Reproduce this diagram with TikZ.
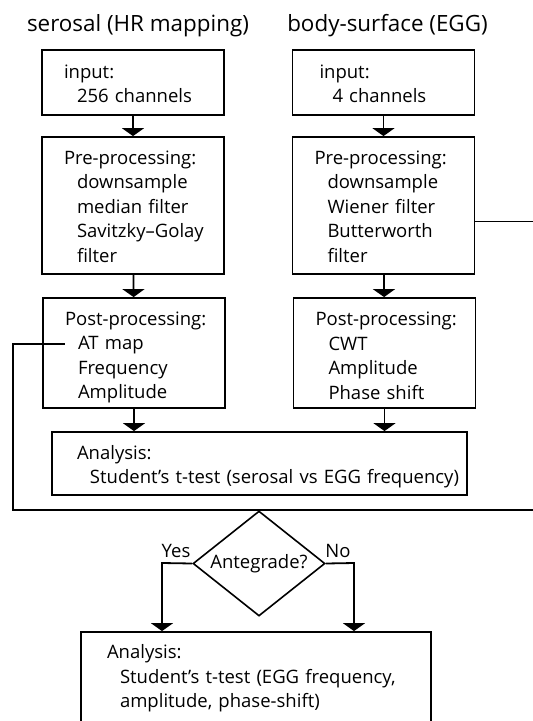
\documentclass[tikz,border=0pt]{standalone}
\usepackage{fontspec}
\setmainfont{Open Sans}
\usetikzlibrary{shapes.geometric,arrows.meta}
\newcommand{\ind}{\hspace*{13pt}}
\newcommand{\lns}[2][23pt]{\begin{tabular}{@{}l@{}}\rule{0pt}{#1}#2\end{tabular}}

\begin{document}
\begin{tikzpicture}[x=1pt, y=-1pt,
    font=\fontsize{18.5}{24.5}\selectfont,
    title/.style={anchor=base, font=\fontsize{22.4}{26}\selectfont},
    box/.style={draw, rectangle, line width=1.8pt, align=left, inner xsep=22pt, inner ysep=0pt, text width=138pt},
    arr/.style={line width=1.8pt, -{Triangle[width=22pt,length=8pt]}},
    link/.style={line width=1.8pt}]
    \useasboundingbox (0,0) rectangle (533,721);
    \clip (0,0) rectangle (533,721);

    \node[title] (t1) at (138,31) {serosal (HR mapping)};
    \node[title] (t2) at (387.5,31) {body-surface (EGG)};

    % serosal column
    \node[box, minimum height=65pt] (in1) at (133,82.5) {\lns{input:\\\ind 256 channels}};
    \node[box, minimum height=137pt] (pre1) at (133,205.5) {\lns{Pre-processing:\\\ind downsample\\\ind median filter\\\ind Savitzky--Golay\\\ind filter}};
    \node[box, minimum height=110pt] (post1) at (134,353) {\lns[25pt]{Post-processing:\\\ind AT map\\\ind Frequency\\\ind Amplitude}};

    % body-surface column
    \node[box, minimum height=65pt] (in2) at (383.5,82.5) {\lns{\hspace*{5pt}input:\\\hspace*{18pt}4 channels}};
    \node[box, minimum height=137pt] (pre2) at (383.5,205.5) {\lns{Pre-processing:\\\ind downsample\\\ind Wiener filter\\\ind Butterworth\\\ind filter}};
    \node[box, minimum height=110pt] (post2) at (384.5,353) {\lns[26pt]{Post-processing:\\\ind CWT\\\ind Amplitude\\\ind Phase shift}};

    \node[box, text width=365pt, inner xsep=25pt, minimum height=63pt] (ana1) at (259.5,463.5) {\lns{Analysis:\\\ind Student's t-test (serosal vs EGG frequency)}};

    \node[draw, diamond, line width=1.6pt, aspect=1.26, inner sep=0pt, minimum width=132pt, minimum height=105pt] (dia) at (259,563.5) {Antegrade?};
    \node[anchor=base] (yeslbl) at (176,557) {Yes};
    \node[anchor=base] (nolbl) at (338,557) {No};

    \node[box, text width=298pt, inner xsep=26pt, minimum height=93pt] (ana2) at (256,678.5) {\lns[17pt]{Analysis:\\\ind Student's t-test (EGG frequency,\\\ind amplitude, phase-shift)}};

    \coordinate (atmap) at (65,344);
    \coordinate (loopL) at (13,510);
    \coordinate (loopR) at (545,510);
    \coordinate (yes) at (162,563);
    \coordinate (no) at (354,563);

    \draw[arr] (in1) -- (pre1);
    \draw[arr] (pre1) -- (post1);
    \draw[arr] (in2) -- (pre2);
    \draw[arr] (pre2) -- (post2);
    \draw[arr] (post1.south) -- (post1.south |- ana1.north);
    \draw[arr] (post2.south) -- (post2.south |- ana1.north);

    \draw[link] ([yshift=-16pt]pre2.east) -| (loopR) -- (loopL) |- (atmap);

    \draw[arr] (dia.west) -- (yes) -- (yes |- ana2.north);
    \draw[arr] (dia.east) -- (no) -- (no |- ana2.north);
\end{tikzpicture}
\end{document}
